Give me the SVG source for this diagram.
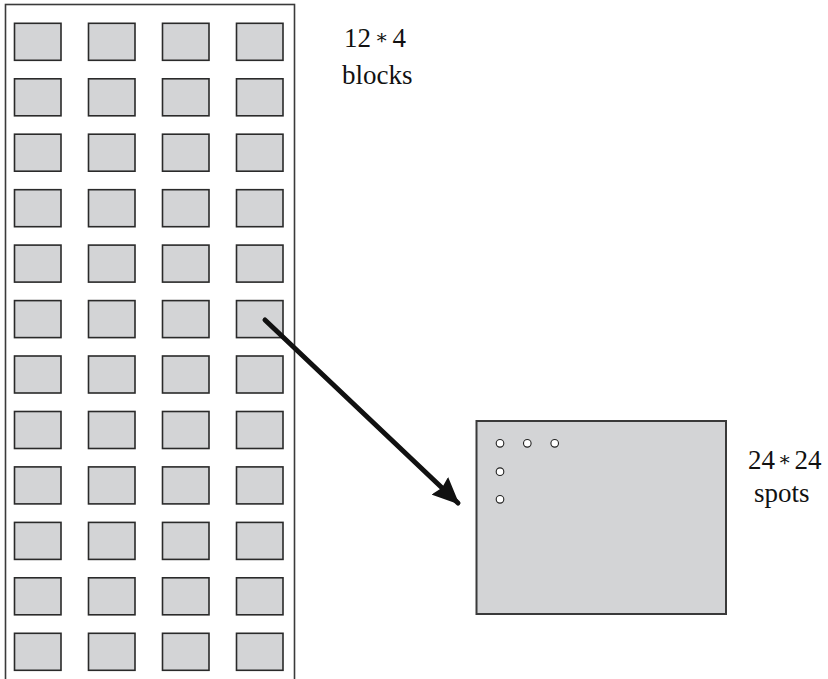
<svg xmlns="http://www.w3.org/2000/svg" width="828" height="679" viewBox="0 0 828 679">
  <style>
    .frame { fill: none; stroke: #3a3a3a; stroke-width: 1.6; }
    .block { fill: #d3d4d6; stroke: #2a2a2a; stroke-width: 1.6; }
    .chip { fill: #d3d4d6; stroke: #3a3a3a; stroke-width: 2; }
    .spot { fill: #ffffff; stroke: #222222; stroke-width: 1.1; }
    .label { font-family: "Liberation Serif", "DejaVu Serif", serif; font-size: 27px; fill: #111111; }
    .op { font-size: 20px; }
    .link { stroke: #111111; stroke-width: 5; stroke-linecap: round; fill: none; }
  </style>
  <defs>
    <marker id="head" viewBox="0 0 27 24" refX="25" refY="12" markerWidth="27" markerHeight="24" markerUnits="userSpaceOnUse" orient="auto">
      <path d="M0,0 L27,12 L0,24 L3,12 Z" fill="#111111"/>
    </marker>
    <rect id="blk" class="block" x="0" y="0" width="46.5" height="37"/>
  </defs>

  <!-- array of 12 x 4 blocks -->
  <g id="array">
    <rect class="frame" x="5.5" y="4.5" width="289" height="676"/>
    <g id="blocks">
      <use href="#blk" x="14.5" y="23.3"/><use href="#blk" x="88.5" y="23.3"/><use href="#blk" x="162.5" y="23.3"/><use href="#blk" x="236.5" y="23.3"/>
      <use href="#blk" x="14.5" y="78.8"/><use href="#blk" x="88.5" y="78.8"/><use href="#blk" x="162.5" y="78.8"/><use href="#blk" x="236.5" y="78.8"/>
      <use href="#blk" x="14.5" y="134.2"/><use href="#blk" x="88.5" y="134.2"/><use href="#blk" x="162.5" y="134.2"/><use href="#blk" x="236.5" y="134.2"/>
      <use href="#blk" x="14.5" y="189.7"/><use href="#blk" x="88.5" y="189.7"/><use href="#blk" x="162.5" y="189.7"/><use href="#blk" x="236.5" y="189.7"/>
      <use href="#blk" x="14.5" y="245.1"/><use href="#blk" x="88.5" y="245.1"/><use href="#blk" x="162.5" y="245.1"/><use href="#blk" x="236.5" y="245.1"/>
      <use href="#blk" x="14.5" y="300.6"/><use href="#blk" x="88.5" y="300.6"/><use href="#blk" x="162.5" y="300.6"/><use href="#blk" x="236.5" y="300.6"/>
      <use href="#blk" x="14.5" y="356.0"/><use href="#blk" x="88.5" y="356.0"/><use href="#blk" x="162.5" y="356.0"/><use href="#blk" x="236.5" y="356.0"/>
      <use href="#blk" x="14.5" y="411.5"/><use href="#blk" x="88.5" y="411.5"/><use href="#blk" x="162.5" y="411.5"/><use href="#blk" x="236.5" y="411.5"/>
      <use href="#blk" x="14.5" y="466.9"/><use href="#blk" x="88.5" y="466.9"/><use href="#blk" x="162.5" y="466.9"/><use href="#blk" x="236.5" y="466.9"/>
      <use href="#blk" x="14.5" y="522.4"/><use href="#blk" x="88.5" y="522.4"/><use href="#blk" x="162.5" y="522.4"/><use href="#blk" x="236.5" y="522.4"/>
      <use href="#blk" x="14.5" y="577.8"/><use href="#blk" x="88.5" y="577.8"/><use href="#blk" x="162.5" y="577.8"/><use href="#blk" x="236.5" y="577.8"/>
      <use href="#blk" x="14.5" y="633.3"/><use href="#blk" x="88.5" y="633.3"/><use href="#blk" x="162.5" y="633.3"/><use href="#blk" x="236.5" y="633.3"/>
    </g>
  </g>

  <g id="array-label">
    <text class="label" x="344" y="47">12<tspan class="op" dx="4" dy="-3">∗</tspan><tspan dx="4" dy="3">4</tspan></text>
    <text class="label" x="342" y="84">blocks</text>
  </g>

  <!-- one block enlarged, with its spots -->
  <g id="block-detail">
    <rect class="chip" x="476.5" y="421" width="249.5" height="193"/>
    <circle class="spot" cx="500" cy="443.3" r="3.8"/>
    <circle class="spot" cx="527.3" cy="443.3" r="3.8"/>
    <circle class="spot" cx="554.7" cy="443.3" r="3.8"/>
    <circle class="spot" cx="500" cy="471.7" r="3.8"/>
    <circle class="spot" cx="500" cy="499.3" r="3.8"/>
  </g>

  <g id="detail-label">
    <text class="label" x="748" y="469">24<tspan class="op" dx="3" dy="-3">∗</tspan><tspan dx="3" dy="3">24</tspan></text>
    <text class="label" x="754" y="502">spots</text>
  </g>

  <g id="connectors">
    <line class="link" x1="265" y1="320" x2="458" y2="503" marker-end="url(#head)"/>
  </g>
</svg>
